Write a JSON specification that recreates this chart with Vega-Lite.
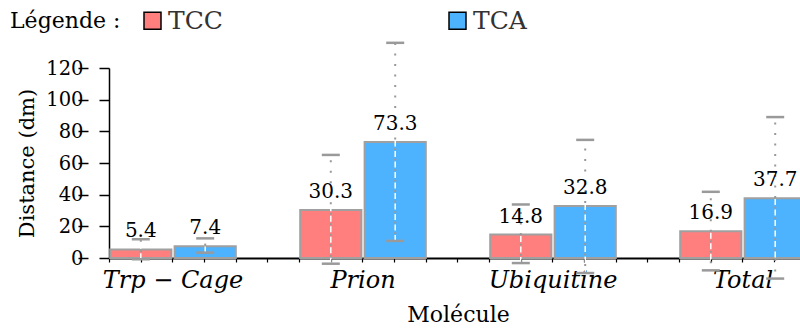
{
  "$schema": "https://vega.github.io/schema/vega-lite/v6.json",
  "autosize": "none",
  "padding": {"left": 109, "top": 68, "right": 0, "bottom": 73},
  "width": 691,
  "height": 190,
  "background": "white",
  "config": {
    "view": {"stroke": null},
    "axisY": {"labelOverlap": false, "tickCount": 7, "values": [0, 20, 40, 60, 80, 100, 120],
      "domainColor": "black", "domainWidth": 1.5,
      "tickColor": "black", "tickWidth": 1.5, "tickSize": 10,
      "grid": true, "gridColor": "black", "gridWidth": 1.5, "gridDash": [10, 2000],
      "labelFont": "DejaVu Serif", "labelFontSize": 19.5, "labelColor": "black",
      "labelPadding": 16,
      "titleFont": "DejaVu Serif", "titleFontSize": 21,
      "titleFontWeight": "normal", "titleColor": "black", "titlePadding": 8}
  },
  "data": {"values": [
    {"molecule": "Trp − Cage", "series": "TCC", "value": 5.4, "lower": -0.8, "upper": 11.9},
    {"molecule": "Trp − Cage", "series": "TCA", "value": 7.4, "lower": 3.4, "upper": 12.4},
    {"molecule": "Prion", "series": "TCC", "value": 30.3, "lower": -3.6, "upper": 65.1},
    {"molecule": "Prion", "series": "TCA", "value": 73.3, "lower": 10.8, "upper": 135.9},
    {"molecule": "Ubiquitine", "series": "TCC", "value": 14.8, "lower": -3.2, "upper": 33.8},
    {"molecule": "Ubiquitine", "series": "TCA", "value": 32.8, "lower": -9.5, "upper": 74.6},
    {"molecule": "Total", "series": "TCC", "value": 16.9, "lower": -7.8, "upper": 41.8},
    {"molecule": "Total", "series": "TCA", "value": 37.7, "lower": -13.0, "upper": 89.0}
  ]},
  "resolve": {"scale": {"x": "independent"}, "axis": {"x": "independent"}},
  "layer": [
    {
      "layer": [
        {
          "mark": {"type": "bar", "stroke": "#A0A0A0", "strokeWidth": 2, "clip": false},
          "encoding": {
            "x": {"field": "molecule", "type": "nominal", "sort": null,
              "scale": {"range": [-31, 729], "paddingInner": 0, "paddingOuter": 0},
              "axis": {"domain": false, "ticks": false, "labelAngle": 0,
                "labelFont": "DejaVu Serif", "labelFontStyle": "italic", "labelFontSize": 24,
                "labelColor": "black", "labelPadding": 10,
                "title": "Molécule", "titleFont": "DejaVu Serif", "titleFontSize": 22,
                "titleFontWeight": "normal", "titleColor": "black", "titlePadding": 12}},
            "xOffset": {"field": "series", "type": "nominal", "sort": ["TCC", "TCA"],
              "scale": {"paddingInner": 0.05, "paddingOuter": 0.5}},
            "y": {"field": "value", "type": "quantitative",
              "scale": {"domain": [0, 120], "nice": false, "zero": false},
              "axis": {"values": [0, 20, 40, 60, 80, 100, 120], "labelOverlap": false, "title": "Distance (dm)"}},
            "color": {"field": "series", "type": "nominal",
              "scale": {"domain": ["TCC", "TCA"], "range": ["#FF7F7F", "#4DB3FF"]},
              "legend": {"orient": "none", "legendX": -99, "legendY": -60,
                "direction": "horizontal", "columns": 2, "columnPadding": 222,
                "title": "Légende :", "titleOrient": "left", "titleFont": "DejaVu Serif",
                "titleFontSize": 22, "titleFontWeight": "normal", "titleColor": "black",
                "titlePadding": 19, "titleBaseline": "middle", "titleAnchor": "middle",
                "symbolType": "square", "symbolSize": 289, "symbolStrokeColor": "black",
                "symbolStrokeWidth": 1.5, "symbolOpacity": 1,
                "labelFont": "DejaVu Serif", "labelFontSize": 25, "labelColor": "#333333",
                "labelOffset": 3}}
          }
        },
        {
          "mark": {"type": "rule", "color": "white", "strokeWidth": 1.5, "strokeDash": [6, 4.5]},
          "encoding": {
            "x": {"field": "molecule", "type": "nominal", "sort": null},
            "xOffset": {"field": "series", "type": "nominal", "sort": ["TCC", "TCA"]},
            "y": {"field": "lower", "type": "quantitative", "axis": {"values": [0, 20, 40, 60, 80, 100, 120], "labelOverlap": false, "title": "Distance (dm)"}},
            "y2": {"field": "upper"}
          }
        },
        {
          "mark": {"type": "rule", "color": "#999999", "strokeWidth": 2, "strokeDash": [2, 8.5], "strokeDashOffset": 3.5},
          "encoding": {
            "x": {"field": "molecule", "type": "nominal", "sort": null},
            "xOffset": {"field": "series", "type": "nominal", "sort": ["TCC", "TCA"]},
            "y": {"field": "lower", "type": "quantitative", "axis": {"values": [0, 20, 40, 60, 80, 100, 120], "labelOverlap": false, "title": "Distance (dm)"}},
            "y2": {"field": "upper"}
          }
        },
        {
          "mark": {"type": "tick", "color": "#9A9A9A", "size": 18, "thickness": 2.5, "opacity": 1},
          "encoding": {
            "x": {"field": "molecule", "type": "nominal", "sort": null},
            "xOffset": {"field": "series", "type": "nominal", "sort": ["TCC", "TCA"]},
            "y": {"field": "upper", "type": "quantitative", "axis": {"values": [0, 20, 40, 60, 80, 100, 120], "labelOverlap": false, "title": "Distance (dm)"}}
          }
        },
        {
          "mark": {"type": "tick", "color": "#9A9A9A", "size": 18, "thickness": 2.5, "opacity": 1},
          "encoding": {
            "x": {"field": "molecule", "type": "nominal", "sort": null},
            "xOffset": {"field": "series", "type": "nominal", "sort": ["TCC", "TCA"]},
            "y": {"field": "lower", "type": "quantitative", "axis": {"values": [0, 20, 40, 60, 80, 100, 120], "labelOverlap": false, "title": "Distance (dm)"}}
          }
        },
        {
          "mark": {"type": "text", "font": "DejaVu Serif", "fontSize": 20, "color": "black",
            "baseline": "alphabetic", "dy": -12},
          "encoding": {
            "x": {"field": "molecule", "type": "nominal", "sort": null},
            "xOffset": {"field": "series", "type": "nominal", "sort": ["TCC", "TCA"]},
            "y": {"field": "value", "type": "quantitative", "axis": {"values": [0, 20, 40, 60, 80, 100, 120], "labelOverlap": false, "title": "Distance (dm)"}},
            "text": {"field": "value", "type": "quantitative", "format": ".1f"}
          }
        }
      ]
    },
    {
      "data": {"values": [{}]},
      "mark": {"type": "point", "opacity": 0},
      "encoding": {
        "x": {"datum": 0, "type": "quantitative",
          "scale": {"domain": [0, 21.82], "nice": false, "zero": false},
          "axis": {"orient": "bottom", "values": [0,1,2,3,4,5,6,7,8,9,10,11,12,13,14,15,16,17,18,19,20,21],
            "labels": false, "title": null, "grid": false,
            "domainColor": "black", "domainWidth": 2,
            "tickColor": "black", "tickWidth": 1.2, "tickSize": 4}}
      }
    }
  ]
}
